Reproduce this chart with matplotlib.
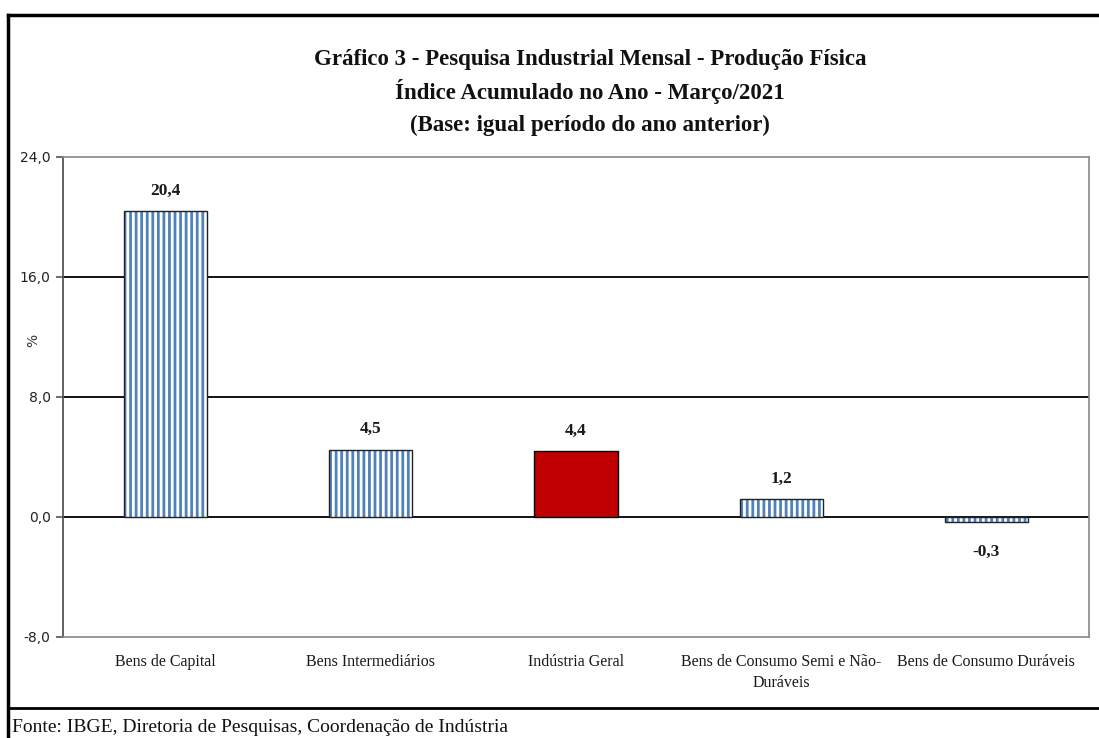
import numpy as np
import matplotlib
matplotlib.use('Agg')
import matplotlib.pyplot as plt
from matplotlib.lines import Line2D

categorias = ['Bens de Capital', 'Bens Intermediários', 'Indústria Geral',
              'Bens de Consumo Semi e Não-\nDuráveis', 'Bens de Consumo Duráveis']
valores = [20.4, 4.5, 4.4, 1.2, -0.3]
destaque = [False, False, True, False, False]
yticks = [-8, 0, 8, 16, 24]

titulo = ['Gráfico 3 - Pesquisa Industrial Mensal - Produção Física',
          'Índice Acumulado no Ano - Março/2021',
          '(Base: igual período do ano anterior)']
fonte = 'Fonte: IBGE, Diretoria de Pesquisas, Coordenação de Indústria'

plt.rcParams['hatch.linewidth'] = 2.0
serif = ['Liberation Serif', 'DejaVu Serif']

fig = plt.figure(figsize=(10.99, 7.38), dpi=100)
ax = fig.add_axes([63/1099, 1-637/738, (1089-63)/1099, (637-157)/738])

x = np.arange(len(valores))
azul = '#4F81BD'
for xi, v, d in zip(x, valores, destaque):
    if d:
        ax.bar(xi, v, width=0.405, color='#C00000', edgecolor='black', linewidth=1.0, zorder=3)
    else:
        ax.bar(xi, v, width=0.405, color='white', edgecolor=azul, hatch='|||', linewidth=0, zorder=3)
        ax.bar(xi, v, width=0.405, fill=False, edgecolor='#222222', linewidth=1.0, zorder=4)
    txt = f'{v:.1f}'.replace('.', ',')
    if v >= 0:
        ax.annotate(txt, (xi, v), xytext=(0, 9), textcoords='offset points', ha='center',
                    va='bottom', fontsize=12.5, fontweight='bold', family=serif, color='#1a1a1a')
    else:
        ax.annotate(txt, (xi, v), xytext=(0, -16), textcoords='offset points', ha='center',
                    va='top', fontsize=12.5, fontweight='bold', family=serif, color='#1a1a1a')

ax.set_xlim(-0.5, len(valores) - 0.5)
ax.set_ylim(-8, 24)
ax.set_yticks(yticks)
ax.set_yticklabels([f'{t:.1f}'.replace('.', ',') for t in yticks], fontsize=10,
                   family='DejaVu Sans', color='#222222')
for t in [0, 8, 16]:
    ax.axhline(t, color='black', linewidth=1.3, zorder=2)
ax.set_xticks(x)
ax.set_xticklabels(categorias, fontsize=11.5, family=serif, color='#1a1a1a', linespacing=1.45)
ax.tick_params(axis='x', length=0, pad=12)
ax.tick_params(axis='y', length=5, width=1.2, color='#555555', pad=4)

for s in ['top', 'right', 'bottom']:
    ax.spines[s].set_color('#888888')
    ax.spines[s].set_linewidth(1.2)
ax.spines['left'].set_color('#555555')
ax.spines['left'].set_linewidth(1.3)

fig.text(33/1099, 1-340/738, '%', rotation=90, ha='center', va='center', fontsize=10,
         color='#333333')
for linha, yy in zip(titulo, [60, 92, 125]):
    fig.text(590/1099, 1-yy/738, linha, ha='center', va='center', fontsize=16.5,
             fontweight='bold', family=serif, color='#111111')
fig.text(12/1099, 1-728/738, fonte, ha='left', va='center', fontsize=14,
         family=serif, color='#111111')

# moldura
fig.add_artist(Line2D([8/1099, 8/1099], [0, 1-15/738], color='black', linewidth=2.5))
fig.add_artist(Line2D([8/1099, 1], [1-15/738, 1-15/738], color='black', linewidth=2.5))
fig.add_artist(Line2D([8/1099, 1], [1-708/738, 1-708/738], color='black', linewidth=2.0))

fig.savefig('out.png', dpi=100)
